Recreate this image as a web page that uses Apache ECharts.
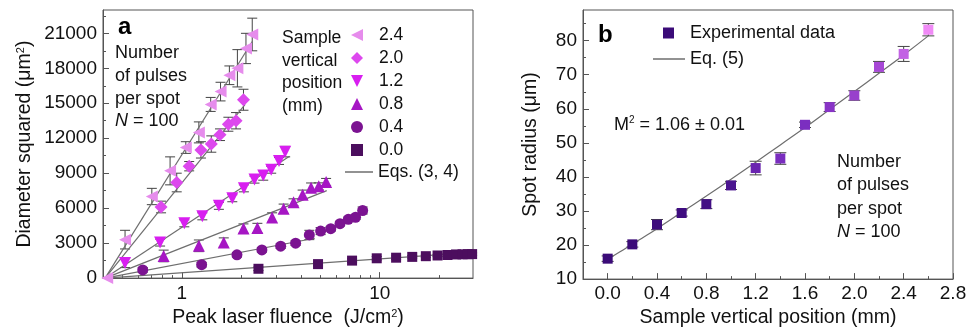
<!DOCTYPE html>
<html>
<head>
<meta charset="utf-8">
<script src="https://cdn.jsdelivr.net/npm/echarts@6/dist/echarts.min.js"></script>
<style>
  html, body { margin: 0; padding: 0; background: #fff; }
  #chart { width: 970px; height: 333px; }
</style>
</head>
<body>
<div id="chart"></div>
<script>
// ---- panel a: diameter squared vs peak fluence, one set per sample position ----
const positions = ['2.4', '2.0', '1.2', '0.8', '0.4', '0.0'];

const fluence24 = [0.42, 0.517, 0.706, 0.873, 1.048, 1.22, 1.40, 1.57, 1.74, 1.91, 2.11, 2.27];
const diam24 = [0, 3300, 7000, 9200, 11200, 12500, 14900, 16000, 17400, 18000, 19700, 20900];
const err24 = [0, 800, 700, 1200, 500, 900, 600, 800, 800, 1600, 1300, 1400];

const fluence20 = [0.786, 0.943, 1.09, 1.25, 1.41, 1.56, 1.72, 1.88, 2.05];
const diam20 = [6100, 8200, 9600, 11000, 11500, 12300, 13200, 13500, 15300];
const err20 = [500, 800, 400, 700, 700, 500, 600, 700, 900];

const fluence12 = [0.517, 0.777, 1.03, 1.27, 1.54, 1.80, 2.06, 2.33, 2.58, 2.83, 3.10, 3.33];
const diam12 = [1300, 3050, 4700, 5300, 6200, 6850, 7700, 8450, 8800, 9300, 10050, 10850];
const err12 = [400, 300, 300, 300, 300, 300, 300, 300, 400, 300, 300, 450];

const fluence08 = [0.81, 1.22, 1.63, 2.05, 2.41, 2.86, 3.27, 3.67, 4.08, 4.50, 4.92, 5.36];
const diam08 = [1900, 2770, 3050, 4250, 4300, 5200, 5950, 6500, 7150, 7760, 7870, 8250];
const err08 = [500, 500, 400, 400, 400, 400, 400, 300, 400, 400, 300, 300];

const fluence04 = [0.635, 1.26, 1.90, 2.54, 3.16, 3.76, 4.41, 5.03, 5.66, 6.30, 6.94, 7.55, 8.20];
const diam04 = [700, 1150, 2000, 2420, 2740, 3000, 3700, 4030, 4240, 4670, 5040, 5220, 5800];
const err04 = [200, 200, 200, 200, 200, 200, 400, 300, 200, 200, 200, 200, 300];

const fluence00 = [2.44, 4.88, 7.25, 9.66, 12.1, 14.6, 17.1, 19.6, 22.0, 24.3, 26.2, 27.9, 29.3];
const diam00 = [800, 1200, 1500, 1700, 1750, 1820, 1880, 1940, 1980, 2030, 2040, 2050, 2060];
const err00 = [150, 150, 150, 150, 150, 100, 100, 100, 100, 100, 100, 100, 100];

// fitted lines, Eqs. (3, 4): end points
const fitFluence24 = [0.41, 2.27], fitDiam24 = [0, 20300];
const fitFluence20 = [0.41, 2.09], fitDiam20 = [0, 14900];
const fitFluence12 = [0.41, 3.5], fitDiam12 = [0, 10450];
const fitFluence08 = [0.41, 5.4], fitDiam08 = [0, 7500];
const fitFluence04 = [0.41, 4.7], fitDiam04 = [0, 3420];
const fitFluence00 = [0.41, 29.6], fitDiam00 = [0, 2200];

const fluenceMajorTicks = [1, 10];
const fluenceMinorTicks = [0.5, 0.6, 0.7, 0.8, 0.9, 2, 3, 4, 5, 6, 7, 8, 9, 20];
const diamTicks = [0, 3000, 6000, 9000, 12000, 15000, 18000, 21000];
const diamMinorTicks = [1500, 4500, 7500, 10500, 13500, 16500, 19500, 22500];

// ---- panel b: spot radius vs sample position ----
const samplePos = [0, 0.2, 0.4, 0.6, 0.8, 1.0, 1.2, 1.4, 1.6, 1.8, 2.0, 2.2, 2.4, 2.6];
const spotRadius = [16.0, 20.2, 26.0, 29.4, 32.0, 37.5, 42.6, 45.4, 55.3, 60.5, 63.9, 72.3, 76.1, 83.2];
const spotErr = [0.8, 0.8, 1.5, 0.9, 1.3, 1.2, 2.0, 1.7, 0.8, 1.3, 1.4, 1.6, 2.2, 1.8];

const fitPos = [0, 0.1, 0.2, 0.3, 0.4, 0.6, 0.8, 1.0, 1.2, 1.4, 1.6, 1.8, 2.0, 2.2, 2.4, 2.6];
const fitRadius = [15.8, 18.0, 20.3, 22.5, 24.8, 29.6, 34.4, 39.3, 44.3, 49.4, 54.5, 59.8, 65.1, 70.4, 75.8, 81.4];

const posTicks = [0, 0.4, 0.8, 1.2, 1.6, 2.0, 2.4, 2.8];
const posMinorTicks = [-0.2, 0.2, 0.6, 1.0, 1.4, 1.8, 2.2, 2.6];
const radiusTicks = [10, 20, 30, 40, 50, 60, 70, 80];
const radiusMinorTicks = [15, 25, 35, 45, 55, 65, 75, 85];

// ---- styles ----
const FONT = '"Liberation Sans", Arial, sans-serif';
const AXIS_COLOR = '#555';
const FIT_COLOR = '#6e6e6e';
const ERR_COLOR = '#444';
const TRI_LEFT = 'path://M0,5L10,0L10,10Z';
const TRI_DOWN = 'path://M0,0L10,0L5,10Z';
const TRI_UP = 'path://M5,0L10,10L0,10Z';
const setColors = ['#e68cec', '#dd48ee', '#d81ef0', '#a616c4', '#7b1391', '#4c0e5e'];
const setSymbols = [TRI_LEFT, 'diamond', TRI_DOWN, TRI_UP, 'circle', 'rect'];
const setSizes = [12, 13, 12, 12, 11, 10];
const pointColors = ['#3b0b78', '#3b0b78', '#3d0c7c', '#3f0d80', '#420f84', '#4c1690', '#6a24b0',
  '#7a2dbf', '#7b2ec0', '#8834c6', '#9840cc', '#a748d6', '#c262e4', '#f08af6'];

const setsX = [fluence24, fluence20, fluence12, fluence08, fluence04, fluence00];
const setsY = [diam24, diam20, diam12, diam08, diam04, diam00];
const setsErr = [err24, err20, err12, err08, err04, err00];
const fitsX = [fitFluence24, fitFluence20, fitFluence12, fitFluence08, fitFluence04, fitFluence00];
const fitsY = [fitDiam24, fitDiam20, fitDiam12, fitDiam08, fitDiam04, fitDiam00];

const zip = (xs, ys) => xs.map((x, i) => [x, ys[i]]);
const zip3 = (xs, ys, es) => xs.map((x, i) => [x, ys[i], es[i]]);

function errorBars(capHalf) {
  return function (params, api) {
    const x = api.value(0), y = api.value(1), e = api.value(2);
    if (!e) return null;
    const hi = api.coord([x, y + e]);
    const lo = api.coord([x, y - e]);
    const style = { stroke: ERR_COLOR, lineWidth: 1, fill: null };
    return {
      type: 'group',
      children: [
        { type: 'line', shape: { x1: hi[0], y1: hi[1], x2: lo[0], y2: lo[1] }, style },
        { type: 'line', shape: { x1: hi[0] - capHalf, y1: hi[1], x2: hi[0] + capHalf, y2: hi[1] }, style },
        { type: 'line', shape: { x1: lo[0] - capHalf, y1: lo[1], x2: lo[0] + capHalf, y2: lo[1] }, style }
      ]
    };
  };
}

const tickLabel = { fontFamily: FONT, fontSize: 19, color: '#111' };
const nameStyle = {
  fontFamily: FONT, fontSize: 19.5, color: '#111',
  rich: { sup: { fontFamily: FONT, fontSize: 11, color: '#111', padding: [0, 0, 9, 0] } }
};

function minorAxis(base, ticks) {
  return Object.assign({}, base, {
    name: '',
    axisLine: { show: false, onZero: false },
    axisLabel: { show: false },
    splitLine: { show: false },
    axisTick: { show: true, inside: true, length: 3, customValues: ticks, lineStyle: { color: AXIS_COLOR } }
  });
}

const xLeft = { type: 'log', gridIndex: 0, min: 0.4, max: 29.6, position: 'bottom' };
const yLeft = { type: 'value', gridIndex: 0, min: 0, max: 23000, position: 'left' };
const xRight = { type: 'value', gridIndex: 1, min: -0.2, max: 2.8, position: 'bottom' };
const yRight = { type: 'value', gridIndex: 1, min: 10, max: 89, position: 'left' };

const series = [];
positions.forEach((p, k) => {
  series.push({
    name: p + '-err', type: 'custom', xAxisIndex: 0, yAxisIndex: 0, z: 1, silent: true,
    renderItem: errorBars(5), encode: { x: 0, y: 1 },
    data: zip3(setsX[k], setsY[k], setsErr[k])
  });
});
positions.forEach((p, k) => {
  series.push({
    name: 'Eqs. (3, 4)', type: 'line', xAxisIndex: 0, yAxisIndex: 0, z: 2,
    symbol: 'none', showSymbol: false, silent: true,
    lineStyle: { color: FIT_COLOR, width: 1.2 }, itemStyle: { color: FIT_COLOR },
    data: zip(fitsX[k], fitsY[k])
  });
});
positions.forEach((p, k) => {
  series.push({
    name: p, type: 'scatter', xAxisIndex: 0, yAxisIndex: 0, z: 3,
    symbol: setSymbols[k], symbolSize: setSizes[k],
    itemStyle: { color: setColors[k], opacity: 1 },
    data: zip(setsX[k], setsY[k])
  });
});
series.push({
  name: 'b-err', type: 'custom', xAxisIndex: 2, yAxisIndex: 2, z: 1, silent: true,
  renderItem: errorBars(6), encode: { x: 0, y: 1 },
  data: zip3(samplePos, spotRadius, spotErr)
});
series.push({
  name: 'Eq. (5)', type: 'line', xAxisIndex: 2, yAxisIndex: 2, z: 2,
  symbol: 'none', showSymbol: false, smooth: true, silent: true,
  lineStyle: { color: FIT_COLOR, width: 1.2 }, itemStyle: { color: FIT_COLOR },
  data: zip(fitPos, fitRadius)
});
series.push({
  name: 'Experimental data', type: 'scatter', xAxisIndex: 2, yAxisIndex: 2, z: 3,
  symbol: 'rect', symbolSize: 10,
  itemStyle: { color: (p) => pointColors[p.dataIndex], opacity: 1 },
  data: zip(samplePos, spotRadius)
});

const legendText = { fontFamily: FONT, fontSize: 17.5, color: '#111' };
const textBase = { fontFamily: FONT, fontSize: 18, fill: '#111' };
const chart = echarts.init(document.getElementById('chart'));
chart.setOption({
  animation: false,
  backgroundColor: '#fff',
  textStyle: { fontFamily: FONT },
  grid: [
    { left: 103, top: 10, width: 370, height: 273, show: true, borderColor: AXIS_COLOR, borderWidth: 1 },
    { left: 583, top: 10, width: 370, height: 273, show: true, borderColor: AXIS_COLOR, borderWidth: 1 }
  ],
  legend: [
    {
      orient: 'vertical', left: 351, top: 26, padding: 0,
      itemWidth: 12, itemHeight: 12, itemGap: 5,
      textStyle: Object.assign({ padding: [0, 0, 0, 11] }, legendText),
      data: positions.map((p, k) => ({ name: p, icon: setSymbols[k] }))
    },
    {
      orient: 'vertical', left: 345, top: 163, padding: 0,
      itemWidth: 28, itemHeight: 1.5,
      textStyle: legendText,
      data: [{ name: 'Eqs. (3, 4)', icon: 'rect', itemStyle: { color: FIT_COLOR } }]
    },
    {
      orient: 'vertical', left: 663, top: 24, padding: 0,
      itemWidth: 11, itemHeight: 11,
      textStyle: { fontFamily: FONT, fontSize: 18, color: '#111', padding: [0, 0, 0, 11] },
      data: [{ name: 'Experimental data', itemStyle: { color: '#3b0b78' } }]
    },
    {
      orient: 'vertical', left: 653, top: 50, padding: 0,
      itemWidth: 32, itemHeight: 1.5,
      textStyle: { fontFamily: FONT, fontSize: 18, color: '#111' },
      data: [{ name: 'Eq. (5)', icon: 'rect', itemStyle: { color: FIT_COLOR } }]
    }
  ],
  xAxis: [
    Object.assign({}, xLeft, {
      name: 'Peak laser fluence  (J/cm{sup|2})', nameLocation: 'middle', nameGap: 25, nameTextStyle: nameStyle,
      axisLine: { onZero: false, lineStyle: { color: AXIS_COLOR } },
      axisTick: { inside: true, length: 6, customValues: fluenceMajorTicks, lineStyle: { color: AXIS_COLOR } },
      axisLabel: Object.assign({ margin: 6, customValues: fluenceMajorTicks, formatter: (v) => String(v) }, tickLabel),
      splitLine: { show: false }
    }),
    minorAxis(xLeft, fluenceMinorTicks),
    Object.assign({}, xRight, {
      name: 'Sample vertical position (mm)', nameLocation: 'middle', nameGap: 27, nameTextStyle: nameStyle,
      axisLine: { onZero: false, lineStyle: { color: AXIS_COLOR } },
      axisTick: { inside: true, length: 6, customValues: posTicks, lineStyle: { color: AXIS_COLOR } },
      axisLabel: Object.assign({ margin: 5, customValues: posTicks, formatter: (v) => v.toFixed(1) }, tickLabel),
      splitLine: { show: false }
    }),
    minorAxis(xRight, posMinorTicks)
  ],
  yAxis: [
    Object.assign({}, yLeft, {
      name: 'Diameter squared (\u03bcm{sup|2})', nameLocation: 'middle', nameRotate: 90, nameGap: 68, nameTextStyle: nameStyle,
      axisLine: { show: true, onZero: false, lineStyle: { color: AXIS_COLOR } },
      axisTick: { show: true, inside: true, length: 6, customValues: diamTicks, lineStyle: { color: AXIS_COLOR } },
      axisLabel: Object.assign({ margin: 6, customValues: diamTicks, formatter: (v) => String(v) }, tickLabel),
      splitLine: { show: false }
    }),
    minorAxis(yLeft, diamMinorTicks),
    Object.assign({}, yRight, {
      name: 'Spot radius (\u03bcm)', nameLocation: 'middle', nameRotate: 90, nameGap: 42, nameTextStyle: nameStyle,
      axisLine: { show: true, onZero: false, lineStyle: { color: AXIS_COLOR } },
      axisTick: { show: true, inside: true, length: 6, customValues: radiusTicks, lineStyle: { color: AXIS_COLOR } },
      axisLabel: Object.assign({ margin: 6, customValues: radiusTicks, formatter: (v) => String(v) }, tickLabel),
      splitLine: { show: false }
    }),
    minorAxis(yRight, radiusMinorTicks)
  ],
  graphic: [
    { type: 'text', z: 10, style: { x: 118, y: 27, text: 'a', font: 'bold 24px ' + FONT, fill: '#000', verticalAlign: 'middle' } },
    { type: 'text', z: 10, style: { x: 598, y: 35, text: 'b', font: 'bold 24px ' + FONT, fill: '#000', verticalAlign: 'middle' } },
    {
      type: 'text', z: 10,
      style: Object.assign({}, textBase, {
        x: 115, y: 42, lineHeight: 22.7, verticalAlign: 'top',
        text: 'Number\nof pulses\nper spot\n{i|N} = 100',
        rich: { i: { fontFamily: FONT, fontSize: 18, fontStyle: 'italic', fill: '#111', lineHeight: 22.7 } }
      })
    },
    {
      type: 'text', z: 10,
      style: Object.assign({}, textBase, {
        x: 282, y: 27, lineHeight: 22.5, verticalAlign: 'top', fontSize: 17.5,
        text: 'Sample\nvertical\nposition\n(mm)'
      })
    },
    {
      type: 'text', z: 10,
      style: Object.assign({}, textBase, {
        x: 614, y: 125, verticalAlign: 'middle',
        text: 'M{s|2} = 1.06 \u00b1 0.01',
        rich: { s: { fontFamily: FONT, fontSize: 10, fill: '#111', padding: [0, 0, 9, 0] } }
      })
    },
    {
      type: 'text', z: 10,
      style: Object.assign({}, textBase, {
        x: 837, y: 150, lineHeight: 23.5, verticalAlign: 'top',
        text: 'Number\nof pulses\nper spot\n{i|N} = 100',
        rich: { i: { fontFamily: FONT, fontSize: 18, fontStyle: 'italic', fill: '#111', lineHeight: 23.5 } }
      })
    }
  ],
  series: series
});
</script>
</body>
</html>
